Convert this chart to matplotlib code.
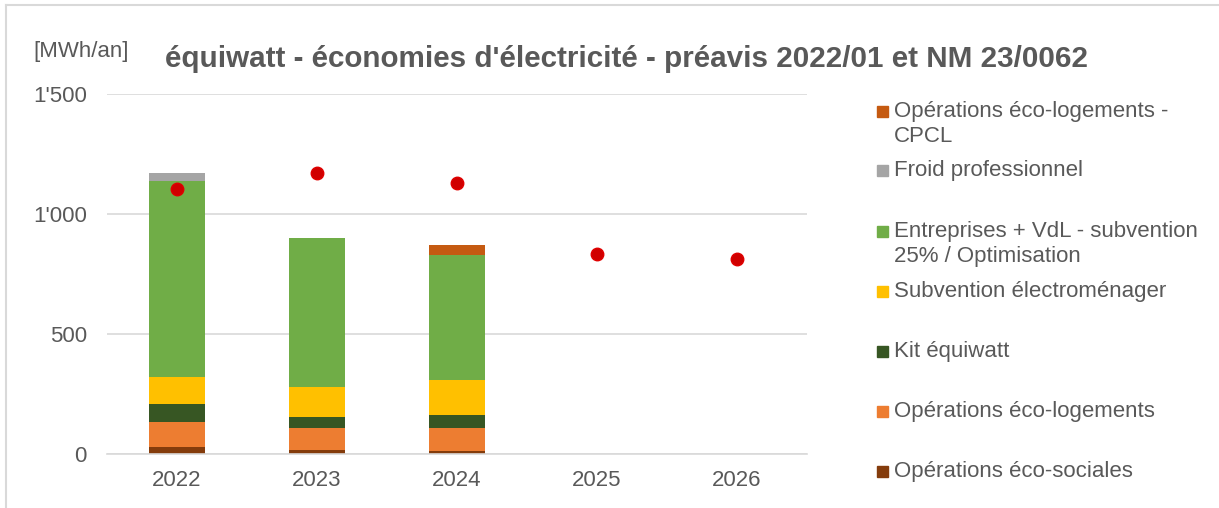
import matplotlib.pyplot as plt
import numpy as np
from matplotlib.patches import Rectangle
from matplotlib.lines import Line2D
from matplotlib.ticker import FuncFormatter

plt.rcParams['font.family'] = ['Liberation Sans', 'DejaVu Sans']

years = ['2022', '2023', '2024', '2025', '2026']

# stacked series, bottom to top (MWh/an)
eco_sociales = [30, 18, 14, 0, 0]
eco_logements = [106, 93, 97, 0, 0]
kit_equiwatt = [74, 43, 51, 0, 0]
subv_electromenager = [111, 128, 146, 0, 0]
entreprises_vdl = [817, 619, 521, 0, 0]
froid_pro = [33, 0, 0, 0, 0]
eco_logements_cpcl = [0, 0, 43, 0, 0]

# objective points
objectif = [1107, 1171, 1132, 833, 812]

series = [
    ('Opérations éco-sociales', eco_sociales, '#843C0C'),
    ('Opérations éco-logements', eco_logements, '#ED7D31'),
    ('Kit équiwatt', kit_equiwatt, '#375623'),
    ('Subvention électroménager', subv_electromenager, '#FFC000'),
    ('Entreprises + VdL - subvention\n25% / Optimisation', entreprises_vdl, '#70AD47'),
    ('Froid professionnel', froid_pro, '#A5A5A5'),
    ('Opérations éco-logements -\nCPCL', eco_logements_cpcl, '#C55A11'),
]

W, H = 1219, 508
fig = plt.figure(figsize=(W / 100, H / 100), dpi=100)
ax = fig.add_axes([107 / W, (H - 454.3) / H, 700 / W, 360 / H])

grey = '#595959'
x = np.arange(len(years))
bottom = np.zeros(len(years))
for name, vals, col in series:
    vals = np.array(vals, dtype=float)
    ax.bar(x, vals, 0.4, bottom=bottom, color=col, zorder=2)
    bottom += vals

ax.plot(x, objectif, 'o', color='#D00000', markersize=9,
        markeredgecolor='#E00000', markeredgewidth=1, zorder=3)

ax.set_xlim(-0.5, len(years) - 0.5)
ax.set_ylim(0, 1500)
ax.set_yticks([0, 500, 1000, 1500])
ax.yaxis.set_major_formatter(FuncFormatter(lambda v, p: f'{int(v):,}'.replace(',', "'")))
ax.set_xticks(x)
ax.set_xticklabels(years)
ax.tick_params(axis='both', length=0, labelsize=16, labelcolor=grey)
ax.tick_params(axis='x', pad=11)
ax.tick_params(axis='y', pad=14.5)
ax.grid(axis='y', color='#D9D9D9', linewidth=1.2, zorder=0)
ax.set_axisbelow(True)
for s in ['top', 'right', 'left']:
    ax.spines[s].set_visible(False)
ax.spines['bottom'].set_color('#D9D9D9')
ax.spines['bottom'].set_linewidth(1.2)

fig.text(165 / W, 1 - 59 / H, "équiwatt - économies d'électricité - préavis 2022/01 et NM 23/0062",
         fontsize=21.3, fontweight='bold', color=grey, va='center', ha='left')
fig.text(33 / W, 1 - 52 / H, '[MWh/an]', fontsize=16, color=grey, va='center', ha='left')

# legend, placed like the original
leg_y = [471.7, 411.7, 351.7, 291.7, 231.7, 170.7, 111.7]
for (name, vals, col), yc in zip(series, leg_y):
    fig.patches.append(Rectangle((877 / W, 1 - (yc + 5.5) / H), 11 / W, 11 / H,
                                 transform=fig.transFigure, color=col))
    for i, line in enumerate(name.split('\n')):
        fig.text(894 / W, 1 - (yc + i * 25) / H, line, fontsize=16, color=grey,
                 va='center', ha='left')

# chart frame (top and left visible)
fig.add_artist(Line2D([6 / W, 1], [1 - 5 / H, 1 - 5 / H], color='#D9D9D9', lw=1.5,
                      transform=fig.transFigure))
fig.add_artist(Line2D([6 / W, 6 / W], [0, 1 - 5 / H], color='#D9D9D9', lw=1.5,
                      transform=fig.transFigure))

fig.savefig('out.png', dpi=100)
